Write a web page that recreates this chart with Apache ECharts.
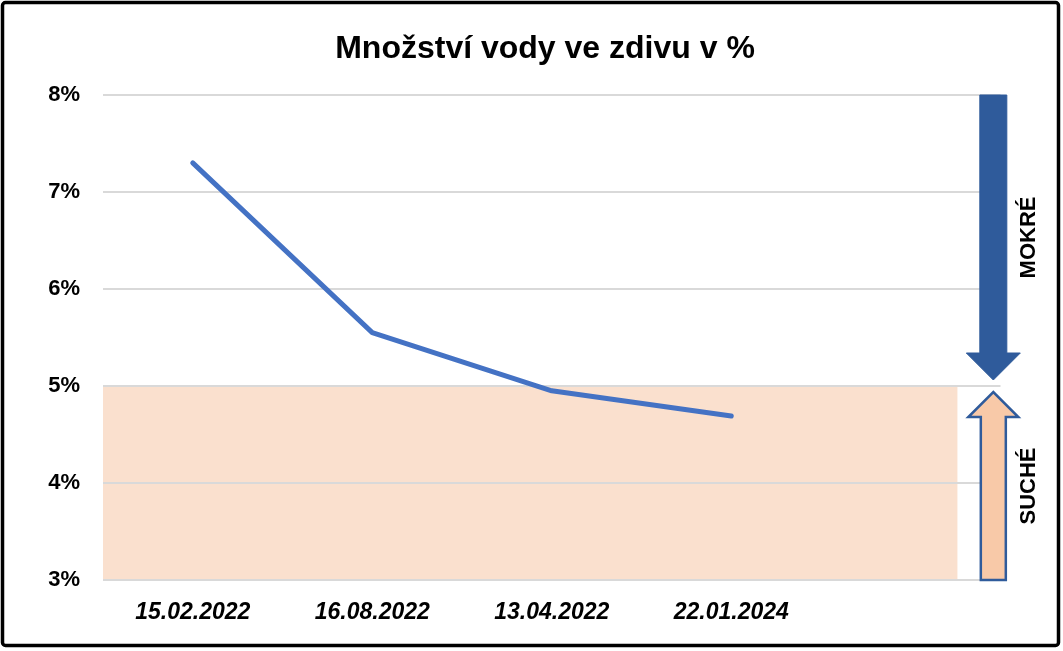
<!DOCTYPE html>
<html>
<head>
<meta charset="utf-8">
<script src="https://cdn.jsdelivr.net/npm/echarts@6/dist/echarts.min.js"></script>
<style>
html,body{margin:0;padding:0;background:#fff;}
#c{width:1063px;height:651px;}
</style>
</head>
<body>
<div id="c"></div>
<script>
// ---- data ----
const titleText = 'Množství vody ve zdivu v %';
const categories = ['15.02.2022', '16.08.2022', '13.04.2022', '22.01.2024', ''];
const moisture = [7.3, 5.55, 4.95, 4.69];
const yTicks = [3, 4, 5, 6, 7, 8];
const dryZone = [[-0.5, 3, 4.26, 5]];           // [xStart, yLow, xEnd, yHigh] in category index units
const arrows = [[4.46, 8, 5, 'MOKRÉ'], [4.46, 3, 5, 'SUCHÉ']]; // [x, from %, to %, label]

const FONT = "'Liberation Sans',Arial,sans-serif";
const chart = echarts.init(document.getElementById('c'), null, {renderer: 'canvas'});

function arrowItem(params, api) {
  const x = api.value(0);
  const fromP = api.coord([x, api.value(1)]);
  const toP = api.coord([x, api.value(2)]);
  const down = toP[1] > fromP[1];
  const cx = fromP[0];
  const gap = 6;
  const tipY = down ? toP[1] - gap : toP[1] + gap;
  const headLen = down ? 27 : 25;
  const headHalf = down ? 27 : 25;
  const shaftHalf = down ? 13.5 : 12.5;
  const dir = down ? 1 : -1;
  const baseY = tipY - dir * headLen;
  const startY = fromP[1];
  const pts = [
    [cx - shaftHalf, startY], [cx + shaftHalf, startY],
    [cx + shaftHalf, baseY], [cx + headHalf, baseY],
    [cx, tipY], [cx - headHalf, baseY],
    [cx - shaftHalf, baseY]
  ];
  const style = down
    ? {fill: '#2f5b9b', stroke: '#2f5b9b', lineWidth: 1}
    : {fill: '#f8c9a8', stroke: '#2f5b9b', lineWidth: 2.5};
  const midY = (startY + tipY) / 2;
  return {
    type: 'group',
    children: [
      {type: 'polygon', shape: {points: pts}, style: style},
      {type: 'text', x: cx + 36, y: midY, rotation: Math.PI / 2,
       style: {text: api.value(3), fill: '#000', font: 'bold 22px ' + FONT,
               align: 'center', verticalAlign: 'middle'}}
    ]
  };
}

const option = {
  backgroundColor: '#fff',
  animation: false,
  title: {
    text: titleText, left: 540, textAlign: 'center', top: 28,
    textStyle: {fontFamily: FONT, fontWeight: 'bold', fontSize: 32, color: '#000'}
  },
  graphic: [{
    type: 'rect', z: 100, silent: true,
    shape: {x: 2.5, y: 2.5, width: 1056, height: 643, r: 3},
    style: {fill: 'none', stroke: '#000', lineWidth: 3.5}
  }],
  grid: {left: 103, right: 62.5, top: 95, bottom: 71, containLabel: false},
  xAxis: [{
    type: 'category', data: categories, boundaryGap: true,
    axisLine: {show: false}, axisTick: {show: false},
    axisLabel: {margin: 21, color: '#000', fontFamily: FONT, fontWeight: 'bold',
                fontStyle: 'italic', fontSize: 23, interval: 0}
  }, {
    type: 'value', min: -0.5, max: 4.5, show: false
  }],
  yAxis: {
    type: 'value', min: yTicks[0], max: yTicks[yTicks.length - 1], interval: 1, z: 3,
    axisLine: {show: false}, axisTick: {show: false},
    axisLabel: {formatter: '{value}%', margin: 23, color: '#000', fontFamily: FONT,
                fontWeight: 'bold', fontSize: 22},
    splitLine: {lineStyle: {color: '#d9d9d9', width: 2}}
  },
  series: [{
    type: 'custom', xAxisIndex: 1, z: 1, silent: true,
    data: dryZone,
    renderItem: function (params, api) {
      const p1 = api.coord([api.value(0), api.value(3)]);
      const p2 = api.coord([api.value(2), api.value(1)]);
      return {type: 'rect', shape: {x: p1[0], y: p1[1], width: p2[0] - p1[0], height: p2[1] - p1[1]},
              style: {fill: '#fae0ce'}};
    }
  }, {
    type: 'line', xAxisIndex: 0, z: 5, data: moisture,
    symbol: 'none',
    lineStyle: {color: '#4472c4', width: 5, cap: 'round', join: 'round'}
  }, {
    type: 'custom', xAxisIndex: 1, z: 6, silent: true,
    data: arrows,
    encode: {x: 0, y: [1, 2]},
    renderItem: arrowItem
  }]
};
chart.setOption(option);
</script>
</body>
</html>
